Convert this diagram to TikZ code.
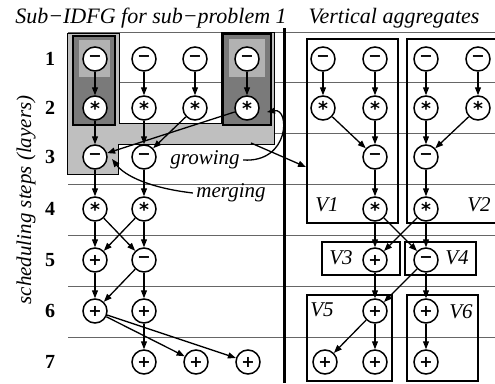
\documentclass[tikz,border=0pt]{standalone}
\usepackage{fontspec}
\setmainfont{Liberation Serif}[BoldFont={Liberation Serif Bold},ItalicFont={Liberation Serif Italic}]
\newfontfamily\symfont{DejaVu Sans}[BoldFont={DejaVu Sans Bold}]
\usetikzlibrary{arrows.meta}
\newcommand\OMin{\symfont\bfseries −}
\newcommand\OAst{\raisebox{-2.5pt}{\symfont\bfseries\fontsize{19}{19}\selectfont *}}
\newcommand\OPls{\symfont\bfseries +}
\begin{document}
\begin{tikzpicture}[x=1pt,y=-1pt,
  op/.style={circle,draw,line width=1.5pt,fill=white,minimum size=24pt,inner sep=0pt,
    font=\fontsize{16}{16}\selectfont},
  conn/.style={line width=1.3pt,-{Triangle[length=8pt,width=6pt]}},
  vbox/.style={line width=2.8pt},
  rule/.style={line width=0.6pt,black!60},
  layer/.style={font=\fontsize{20}{20}\selectfont\bfseries},
  lbl/.style={font=\fontsize{21}{21}\selectfont\itshape},
  ttl/.style={font=\fontsize{22}{22}\selectfont\itshape,anchor=base}]
\useasboundingbox (0,0) rectangle (495,383);
% horizontal rules
\foreach \yy in {32,82,133,184,235,286,337}
  \draw[rule] (68,\yy) -- (495,\yy);
% shaded aggregates (left)
\draw[fill=black!25,line width=0.9pt] (67,33) -- (119,33) -- (119,123) -- (221,123) -- (221,32)
  -- (274,32) -- (274,144) -- (118,144) -- (118,174) -- (67,174) -- cycle;
\draw[fill=black!52,line width=2.4pt] (73,36) rectangle (115,125);
\fill[black!30] (79,40) rectangle (110,77);
\draw[fill=black!52,line width=2.4pt] (223,34) rectangle (271,125);
\fill[black!30] (229,39) rectangle (265,77);
% separator
\draw[line width=3pt] (284,28) -- (284,383);
% vertical aggregate boxes
\draw[vbox] (307,39) rectangle (398,223);
\draw[vbox] (407,39) rectangle (500,223);
\draw[vbox] (322,242) rectangle (400,275);
\draw[vbox] (405,242) rectangle (476,275);
\draw[vbox] (307,295) rectangle (392,381);
\draw[vbox] (407,295) rectangle (478,381);
% titles
\node[ttl] (t1) at (151,23) {Sub−IDFG for sub−problem 1};
\node[ttl] (t2) at (394,23) {Vertical aggregates};
% layer numbers
\foreach \n/\yy in {1/59,2/108,3/157,4/209,5/260,6/311,7/362}
  \node[layer] (n\n) at (50,\yy) {\n};
\node[lbl,rotate=90] (steps) at (26,200) {scheduling steps (layers)};
% left nodes
\node[op] (l11) at (95,59) {\OMin};
\node[op] (l12) at (144,59) {\OMin};
\node[op] (l13) at (195,59) {\OMin};
\node[op] (l14) at (247,59) {\OMin};
\node[op] (l21) at (95,108) {\OAst};
\node[op] (l22) at (144,108) {\OAst};
\node[op] (l23) at (195,108) {\OAst};
\node[op] (l24) at (247,108) {\OAst};
\node[op] (l31) at (95,157) {\OMin};
\node[op] (l32) at (144,157) {\OMin};
\node[op] (l41) at (95,209) {\OAst};
\node[op] (l42) at (144,209) {\OAst};
\node[op] (l51) at (95,260) {\OPls};
\node[op] (l52) at (144,260) {\OMin};
\node[op] (l61) at (95,311) {\OPls};
\node[op] (l62) at (144,311) {\OPls};
\node[op] (l72) at (144,362) {\OPls};
\node[op] (l73) at (196,362) {\OPls};
\node[op] (l74) at (248,362) {\OPls};
% right nodes
\node[op] (r11) at (323,59) {\OMin};
\node[op] (r12) at (375,59) {\OMin};
\node[op] (r13) at (426,59) {\OMin};
\node[op] (r14) at (478,59) {\OMin};
\node[op] (r21) at (323,108) {\OAst};
\node[op] (r22) at (375,108) {\OAst};
\node[op] (r23) at (426,108) {\OAst};
\node[op] (r24) at (478,108) {\OAst};
\node[op] (r32) at (375,157) {\OMin};
\node[op] (r33) at (426,157) {\OMin};
\node[op] (r42) at (375,209) {\OAst};
\node[op] (r43) at (426,209) {\OAst};
\node[op] (r52) at (375,260) {\OPls};
\node[op] (r53) at (426,260) {\OMin};
\node[op] (r62) at (375,311) {\OPls};
\node[op] (r63) at (426,311) {\OPls};
\node[op] (r71) at (325,362) {\OPls};
\node[op] (r72) at (375,362) {\OPls};
\node[op] (r73) at (426,362) {\OPls};
% left edges
\foreach \a/\b in {l11/l21,l12/l22,l13/l23,l14/l24,l21/l31,l24/l31,l22/l32,l23/l32,
  l31/l41,l32/l42,l41/l51,l41/l52,l42/l51,l42/l52,l51/l61,l52/l61,l52/l62,
  l61/l73,l61/l74,l62/l72}
  \draw[conn] (\a) -- (\b);
% right edges
\foreach \a/\b in {r11/r21,r12/r22,r13/r23,r14/r24,r21/r32,r22/r32,r23/r33,r24/r33,
  r32/r42,r33/r43,r42/r52,r42/r53,r43/r52,r43/r53,r52/r62,r53/r62,r53/r63,
  r62/r71,r62/r72,r63/r73}
  \draw[conn] (\a) -- (\b);
% box labels
\node[lbl] (v1) at (327,205) {V1};
\node[lbl] (v2) at (479,205) {V2};
\node[lbl] (v3) at (341,258) {V3};
\node[lbl] (v4) at (457,258) {V4};
\node[lbl] (v5) at (322,310) {V5};
\node[lbl] (v6) at (461,312) {V6};
% growing / merging
\node[lbl] (grow) at (205,160) {growing};
\node[lbl] (merge) at (231,193) {merging};
\coordinate (gtip) at (267,112);
\coordinate (bandpt) at (251,143);
\coordinate (v1in) at (306,167);
\coordinate (mtip) at (112,159);
\draw[conn] (grow.east) .. controls (290,163) and (290,108) .. (gtip);
\draw[conn] (bandpt) -- (v1in);
\draw[conn] (merge.west) .. controls (150,188) and (125,176) .. (mtip);
\end{tikzpicture}
\end{document}
